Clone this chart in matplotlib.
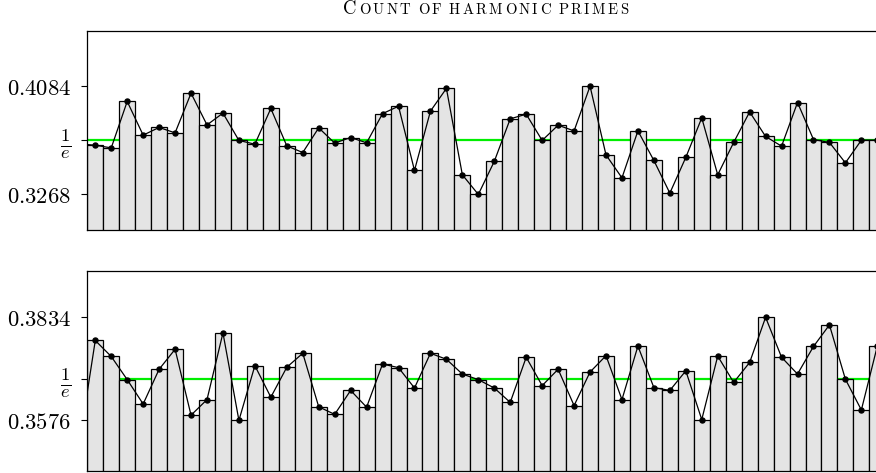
import numpy as np
import matplotlib
matplotlib.use("Agg")
import matplotlib.pyplot as plt

plt.rcParams['mathtext.fontset'] = 'cm'

# positions -1 .. 49 (the window shows 0 .. 49, the first point only feeds the line)
positions = list(range(-1, 50))

top_vals = [0.3649,
            0.3639, 0.3619, 0.3969, 0.3715, 0.3773, 0.3732, 0.4031, 0.3792, 0.3881, 0.3675,
            0.3647, 0.3916, 0.3634, 0.3584, 0.3770, 0.3655, 0.3697, 0.3657, 0.3877, 0.3933,
            0.3449, 0.3896, 0.4067, 0.3416, 0.3268, 0.3517, 0.3838, 0.3873, 0.3675, 0.3790,
            0.3747, 0.4084, 0.3566, 0.3393, 0.3747, 0.3524, 0.3278, 0.3547, 0.3845, 0.3416,
            0.3660, 0.3890, 0.3705, 0.3632, 0.3961, 0.3682, 0.3660, 0.3506, 0.3677, 0.3677]

bottom_vals = [0.3518,
               0.3776, 0.3736, 0.3678, 0.3617, 0.3704, 0.3754, 0.3589, 0.3628, 0.3795, 0.3576,
               0.3713, 0.3634, 0.3709, 0.3744, 0.3610, 0.3591, 0.3651, 0.3609, 0.3717, 0.3708,
               0.3657, 0.3744, 0.3729, 0.3692, 0.3678, 0.3657, 0.3621, 0.3734, 0.3663, 0.3704,
               0.3613, 0.3697, 0.3738, 0.3628, 0.3762, 0.3658, 0.3651, 0.3700, 0.3578, 0.3737,
               0.3671, 0.3721, 0.3834, 0.3734, 0.3692, 0.3761, 0.3815, 0.3679, 0.3602, 0.3762]

top_ticks = [0.3268, 1 / np.e, 0.4084]
top_ticklabels = ['$0.3268$', r'$\frac{1}{e}$', '$0.4084$']
bottom_ticks = [0.3576, 1 / np.e, 0.3834]
bottom_ticklabels = ['$0.3576$', r'$\frac{1}{e}$', '$0.3834$']

title = 'Count of harmonic primes'

W, H = 876, 473
fig = plt.figure(figsize=(W / 100, H / 100), dpi=100)

left = 87.3 / W
width = 798 / W
ax1 = fig.add_axes([left, 1 - 230 / H, width, 199 / H])
ax2 = fig.add_axes([left, 1 - 470.7 / H, width, 199.7 / H])


def draw_panel(ax, vals, ticks, ticklabels, ylim):
    ax.axhline(1 / np.e, color='#00ee00', lw=1.6, zorder=1)
    ax.bar(positions, vals, width=1.0, color='#e4e4e4', edgecolor='black',
           linewidth=0.9, zorder=2)
    ax.plot(positions, vals, color='black', lw=0.9, marker='o', markersize=3.6,
            zorder=3)
    ax.set_xlim(-0.5, 49.5)
    ax.set_ylim(*ylim)
    ax.set_xticks([])
    ax.set_yticks(ticks)
    ax.set_yticklabels(ticklabels)
    ax.tick_params(axis='y', labelsize=16.3, length=4.1, width=0.8, pad=7.5)
    # the fraction label is drawn a bit bigger
    ax.get_yticklabels()[1].set_fontsize(19)
    for s in ax.spines.values():
        s.set_linewidth(0.9)


draw_panel(ax1, top_vals, top_ticks, top_ticklabels, (0.30, 0.45))
draw_panel(ax2, bottom_vals, bottom_ticks, bottom_ticklabels, (0.345, 0.395))

# small caps title: first letter large, the rest as small capitals, spread to the
# width it has in the picture (centred over the axes)
x_start, x_end = 343.0, 628.0
yb = 1 - 14.0 / H
word_gap = 7.5
letters = []
for i, ch in enumerate(title):
    if ch == ' ':
        letters.append(None)
        continue
    size = 13.5 if i == 0 else 10.6
    letters.append(fig.text(0, yb, ch.upper(), fontfamily='cmr10', fontsize=size,
                            va='baseline', ha='left'))
fig.canvas.draw()
r = fig.canvas.get_renderer()
widths = [t.get_window_extent(r).width if t is not None else 0 for t in letters]
n_words = title.count(' ')
n_pairs = sum(1 for a, b in zip(letters[:-1], letters[1:]) if a is not None and b is not None)
gap = (x_end - x_start - sum(widths) - n_words * word_gap) / n_pairs
x = x_start
prev = None
for t, w in zip(letters, widths):
    if t is None:
        x += word_gap
        prev = None
        continue
    if prev is not None:
        x += gap
    t.set_x(x / W)
    x += w
    prev = t

fig.savefig('out.png', dpi=100)
